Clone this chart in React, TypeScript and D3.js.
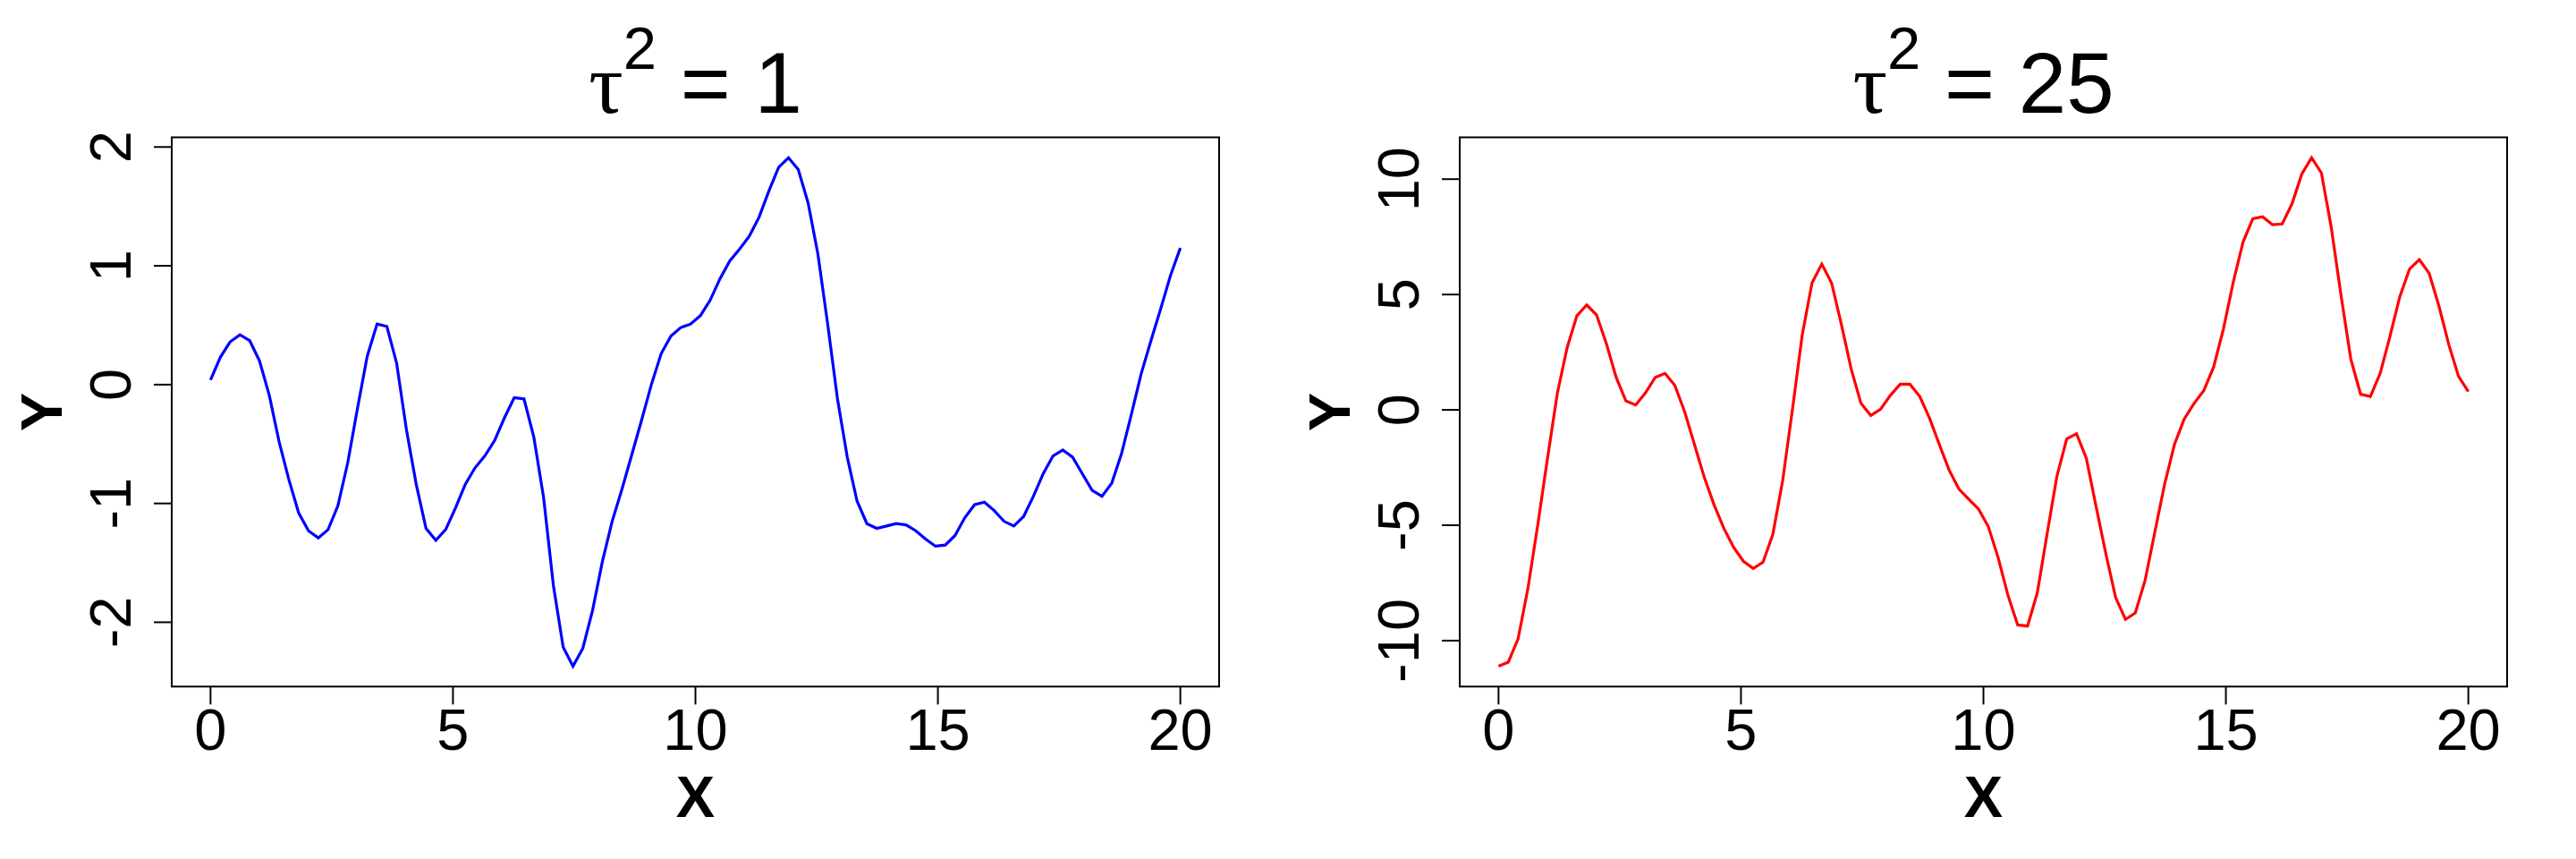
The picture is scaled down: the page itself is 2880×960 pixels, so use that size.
import React, { useRef, useEffect } from 'react';
import * as d3 from 'd3';

// sample paths, 100 points evenly spaced on [0, 20]
const yBlue: number[] = [
  0.04, 0.23, 0.36, 0.42, 0.37, 0.2, -0.09, -0.48, -0.8, -1.08,
  -1.23, -1.29, -1.22, -1.02, -0.66, -0.2, 0.24, 0.51, 0.49, 0.18,
  -0.38, -0.84, -1.21, -1.31, -1.22, -1.04, -0.84, -0.7, -0.6, -0.47,
  -0.28, -0.11, -0.12, -0.44, -0.95, -1.69, -2.21, -2.37, -2.22, -1.9,
  -1.49, -1.15, -0.88, -0.59, -0.3, 0.0, 0.26, 0.41, 0.48, 0.51,
  0.58, 0.71, 0.89, 1.04, 1.14, 1.25, 1.41, 1.63, 1.83, 1.91,
  1.81, 1.53, 1.1, 0.51, -0.12, -0.61, -0.98, -1.17, -1.21, -1.19,
  -1.17, -1.18, -1.23, -1.3, -1.36, -1.35, -1.27, -1.12, -1.01, -0.99,
  -1.06, -1.15, -1.19, -1.11, -0.94, -0.75, -0.6, -0.55, -0.61, -0.75,
  -0.89, -0.94, -0.83, -0.58, -0.25, 0.09, 0.37, 0.64, 0.92, 1.15,
];

const yRed: number[] = [
  -11.11, -10.93, -9.92, -7.74, -5.0, -2.1, 0.71, 2.69, 4.08, 4.55,
  4.12, 2.88, 1.42, 0.39, 0.21, 0.74, 1.41, 1.58, 1.06, -0.08,
  -1.5, -2.92, -4.11, -5.13, -5.96, -6.56, -6.87, -6.6, -5.4, -3.08,
  0.0, 3.24, 5.5, 6.32, 5.5, 3.7, 1.77, 0.28, -0.24, 0.03,
  0.63, 1.11, 1.11, 0.58, -0.36, -1.5, -2.61, -3.43, -3.87, -4.3,
  -5.06, -6.4, -8.03, -9.32, -9.37, -7.93, -5.37, -2.88, -1.26, -1.03,
  -2.09, -4.19, -6.24, -8.14, -9.08, -8.8, -7.39, -5.29, -3.21, -1.5,
  -0.39, 0.28, 0.84, 1.86, 3.51, 5.53, 7.27, 8.29, 8.37, 8.03,
  8.06, 8.93, 10.22, 10.93, 10.27, 7.93, 4.98, 2.21, 0.68, 0.58,
  1.58, 3.19, 4.9, 6.11, 6.51, 5.92, 4.5, 2.84, 1.45, 0.79,
];

const xTicks: number[] = [0, 5, 10, 15, 20];
const yTicksBlue: number[] = [-2, -1, 0, 1, 2];
const yTicksRed: number[] = [-10, -5, 0, 5, 10];
const tauValues: string[] = ['1', '25'];

const W = 2880;
const H = 960;
const PANEL_W = 1440;
const FONT = '"Liberation Sans", Arial, Helvetica, sans-serif';
const SERIF = '"Liberation Serif", "Times New Roman", serif';

// R style range: data range padded by 4% on each side
const padded = (lo: number, hi: number): [number, number] => {
  const r = hi - lo;
  return [lo - 0.04 * r, hi + 0.04 * r];
};

const App: React.FC = () => {
  const svgRef = useRef<SVGSVGElement | null>(null);

  useEffect(() => {
    if (!svgRef.current) return;
    const svg = d3.select(svgRef.current);
    svg.selectAll('*').remove();

    svg.append('rect').attr('width', W).attr('height', H).attr('fill', '#fff');

    const panels = [
      { ys: yBlue, color: '#0000ff', yTicks: yTicksBlue, tau: tauValues[0] },
      { ys: yRed, color: '#ff0000', yTicks: yTicksRed, tau: tauValues[1] },
    ];

    panels.forEach((p, k) => {
      const ox = k * PANEL_W;
      const left = ox + 192;
      const right = ox + 1363;
      const top = 153.5;
      const bottom = 767.3;
      const cx = (left + right) / 2;

      const xs = p.ys.map((_, i) => (i * 20) / (p.ys.length - 1));
      const [xmin, xmax] = d3.extent(xs) as [number, number];
      const [ymin, ymax] = d3.extent(p.ys) as [number, number];

      const x = d3.scaleLinear().domain(padded(xmin, xmax)).range([left, right]);
      const y = d3.scaleLinear().domain(padded(ymin, ymax)).range([bottom, top]);

      const g = svg.append('g');

      // the curve
      const line = d3
        .line<number>()
        .x((_, i) => x(xs[i]))
        .y((d) => y(d));
      g.append('path')
        .datum(p.ys)
        .attr('fill', 'none')
        .attr('stroke', p.color)
        .attr('stroke-width', 3.2)
        .attr('stroke-linejoin', 'miter')
        .attr('d', line);

      // box
      g.append('rect')
        .attr('x', left)
        .attr('y', top)
        .attr('width', right - left)
        .attr('height', bottom - top)
        .attr('fill', 'none')
        .attr('stroke', '#000')
        .attr('stroke-width', 2);

      // x axis ticks + labels
      xTicks.forEach((t) => {
        g.append('line')
          .attr('x1', x(t))
          .attr('x2', x(t))
          .attr('y1', bottom)
          .attr('y2', bottom + 20)
          .attr('stroke', '#000')
          .attr('stroke-width', 2);
        g.append('text')
          .attr('x', x(t))
          .attr('y', 838)
          .attr('text-anchor', 'middle')
          .attr('font-family', FONT)
          .attr('font-size', 65)
          .text(String(t));
      });

      // y axis ticks + rotated labels
      p.yTicks.forEach((t) => {
        g.append('line')
          .attr('x1', left - 20)
          .attr('x2', left)
          .attr('y1', y(t))
          .attr('y2', y(t))
          .attr('stroke', '#000')
          .attr('stroke-width', 2);
        g.append('text')
          .attr('transform', `translate(${left - 46},${y(t)}) rotate(-90)`)
          .attr('text-anchor', 'middle')
          .attr('font-family', FONT)
          .attr('font-size', 65)
          .text(String(t));
      });

      // axis titles
      g.append('text')
        .attr('x', cx)
        .attr('y', 913)
        .attr('text-anchor', 'middle')
        .attr('font-family', FONT)
        .attr('font-weight', 'bold')
        .attr('font-size', 65)
        .text('X');
      g.append('text')
        .attr('transform', `translate(${left - 123},${(top + bottom) / 2}) rotate(-90)`)
        .attr('text-anchor', 'middle')
        .attr('font-family', FONT)
        .attr('font-weight', 'bold')
        .attr('font-size', 65)
        .text('Y');

      // title: tau^2 = value
      const title = g
        .append('text')
        .attr('x', cx)
        .attr('y', 126)
        .attr('text-anchor', 'middle')
        .attr('font-family', FONT)
        .attr('font-size', 96)
        .style('white-space', 'pre');
      title.append('tspan').attr('font-family', SERIF).text('τ');
      title.append('tspan').attr('font-size', 67).attr('dy', -49).text('2');
      title.append('tspan').attr('dy', 49).text(` = ${p.tau}`);
    });
  }, []);

  return (
    <svg
      ref={svgRef}
      width={W}
      height={H}
      style={{ position: 'absolute', left: 0, top: 0, display: 'block' }}
    ></svg>
  );
};

export default App;
